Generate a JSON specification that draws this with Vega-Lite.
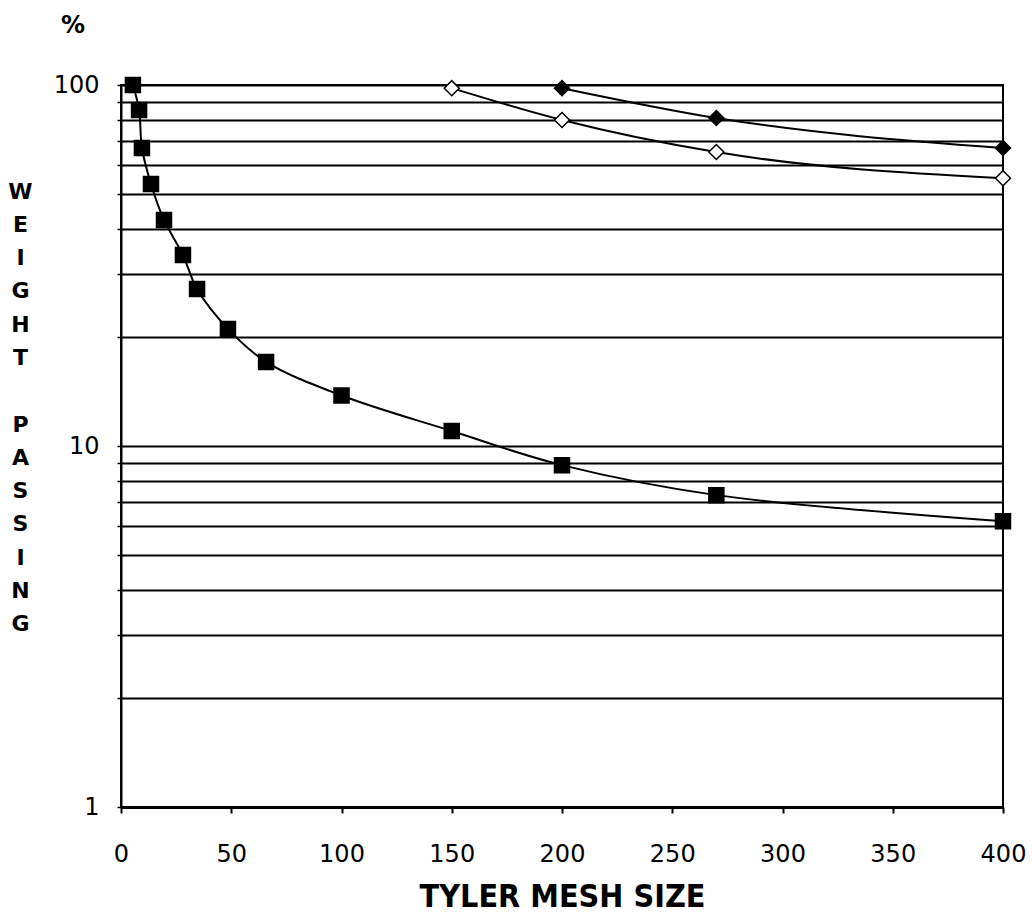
{
  "$schema": "https://vega.github.io/schema/vega-lite/v6.json",
  "width": 882,
  "height": 722,
  "autosize": {"type": "none"},
  "padding": {"left": 121, "top": 85, "right": 29, "bottom": 106},
  "background": "white",
  "title": {"text": "%", "anchor": "start", "frame": "group", "dx": -60, "offset": 11, "fontSize": 24, "font": "DejaVu Sans", "fontWeight": "bold", "color": "black", "baseline": "bottom"},
  "config": {"view": {"stroke": "black", "strokeWidth": 2}},
  "data": {"values": [
    {"mesh": 5.4, "pct": 100, "series": "A"},
    {"mesh": 8.2, "pct": 85.3, "series": "A"},
    {"mesh": 9.5, "pct": 66.9, "series": "A"},
    {"mesh": 13.6, "pct": 53.2, "series": "A"},
    {"mesh": 19.5, "pct": 42.3, "series": "A"},
    {"mesh": 28.1, "pct": 33.8, "series": "A"},
    {"mesh": 34.5, "pct": 27.2, "series": "A"},
    {"mesh": 48.5, "pct": 21.1, "series": "A"},
    {"mesh": 65.8, "pct": 17.1, "series": "A"},
    {"mesh": 100, "pct": 13.8, "series": "A"},
    {"mesh": 150, "pct": 11.0, "series": "A"},
    {"mesh": 200, "pct": 8.85, "series": "A"},
    {"mesh": 270, "pct": 7.31, "series": "A"},
    {"mesh": 400, "pct": 6.19, "series": "A"},
    {"mesh": 150, "pct": 98, "series": "B"},
    {"mesh": 200, "pct": 80, "series": "B"},
    {"mesh": 270, "pct": 65.2, "series": "B"},
    {"mesh": 400, "pct": 55.2, "series": "B"},
    {"mesh": 200, "pct": 98, "series": "C"},
    {"mesh": 270, "pct": 81, "series": "C"},
    {"mesh": 400, "pct": 66.9, "series": "C"}
  ]},
  "encoding": {
    "x": {
      "field": "mesh", "type": "quantitative",
      "scale": {"domain": [0, 400], "nice": false, "zero": false},
      "axis": {
        "values": [0, 50, 100, 150, 200, 250, 300, 350, 400],
        "title": "TYLER MESH SIZE",
        "titleFont": "DejaVu Sans Condensed", "titleFontWeight": "bold", "titleFontSize": 32, "titleColor": "black", "titlePadding": 15,
        "labelFont": "DejaVu Sans", "labelFontSize": 24, "labelColor": "black", "labelPadding": 29,
        "labelFlush": false, "labelOverlap": false, "labelBound": false,
        "tickColor": "black", "tickWidth": 2, "tickSize": 6,
        "domainColor": "black", "domainWidth": 3, "grid": false
      }
    },
    "y": {
      "field": "pct", "type": "quantitative",
      "scale": {"type": "log", "domain": [1, 100], "nice": false},
      "axis": {
        "values": [1, 2, 3, 4, 5, 6, 7, 8, 9, 10, 20, 30, 40, 50, 60, 70, 80, 90, 100],
        "labelExpr": "datum.value == 1 || datum.value == 10 || datum.value == 100 ? datum.label : ''",
        "grid": true, "gridColor": "black", "gridWidth": 2, "gridOpacity": 1,
        "labelFont": "DejaVu Sans", "labelFontSize": 24, "labelColor": "black", "labelPadding": 18, "labelOverlap": false, "labelFlush": false, "labelBound": false,
        "tickSize": 4, "tickColor": "black", "tickWidth": 1.5,
        "domainColor": "black", "domainWidth": 2,
        "title": ["W", "E", "I", "G", "H", "T", "\u200b", "P", "A", "S", "S", "I", "N", "G"],
        "titleAngle": 0, "titleAlign": "center", "titleBaseline": "top",
        "titleX": -101, "titleY": 96, "titleLineHeight": 33.3,
        "titleFont": "DejaVu Sans", "titleFontWeight": "bold", "titleFontSize": 22, "titleColor": "black"
      }
    }
  },
  "layer": [
    {
      "transform": [{"filter": "datum.series == 'A'"}],
      "mark": {"type": "line", "interpolate": "catmull-rom", "color": "black", "strokeWidth": 2},
      "encoding": {}
    },
    {
      "transform": [{"filter": "datum.series != 'A'"}],
      "mark": {"type": "line", "interpolate": "monotone", "color": "black", "strokeWidth": 2},
      "encoding": {"detail": {"field": "series"}}
    },
    {
      "mark": {"type": "point", "filled": true, "stroke": "black", "strokeWidth": 1.5, "opacity": 1, "size": 225},
      "encoding": {
        "shape": {"field": "series", "scale": {"domain": ["A", "B", "C"], "range": ["square", "diamond", "diamond"]}, "legend": null},
        "fill": {"field": "series", "scale": {"domain": ["A", "B", "C"], "range": ["black", "white", "black"]}, "legend": null}
      }
    }
  ]
}
